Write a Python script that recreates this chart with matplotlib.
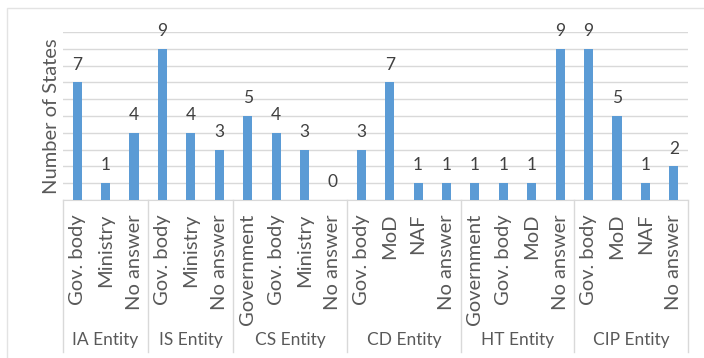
import matplotlib
matplotlib.use("Agg")
import matplotlib.pyplot as plt
from matplotlib.patches import Rectangle

plt.rcParams['font.family'] = ['Lato', 'DejaVu Sans']

groups = ['IA Entity', 'IS Entity', 'CS Entity', 'CD Entity', 'HT Entity', 'CIP Entity']
sub_labels = [
    ['Gov. body', 'Ministry', 'No answer'],
    ['Gov. body', 'Ministry', 'No answer'],
    ['Government', 'Gov. body', 'Ministry', 'No answer'],
    ['Gov. body', 'MoD', 'NAF', 'No answer'],
    ['Government', 'Gov. body', 'MoD', 'No answer'],
    ['Gov. body', 'MoD', 'NAF', 'No answer'],
]
counts = [
    [7, 1, 4],
    [9, 4, 3],
    [5, 4, 3, 0],
    [3, 7, 1, 1],
    [1, 1, 1, 9],
    [9, 5, 1, 2],
]

bar_color = '#5B9BD5'
grid_color = '#D9D9D9'
text_color = '#595959'

fig = plt.figure(figsize=(7.04, 3.58), dpi=100)
ax = fig.add_axes([63 / 704, 1 - 200 / 358, 625 / 704, 168 / 358])

# outer chart frame
fig.patches.append(Rectangle((7 / 704, -0.05), 1.0, 1 - 8 / 358 + 0.05,
                             transform=fig.transFigure, fill=False,
                             edgecolor='#E3E3E3', linewidth=1.0))

xs, vals, ticks = [], [], []
pos = 0
bounds = [-0.5]
centers = []
for g, labs, vs in zip(groups, sub_labels, counts):
    start = pos
    for lab, v in zip(labs, vs):
        xs.append(pos)
        vals.append(v)
        ticks.append(lab)
        pos += 1
    bounds.append(pos - 0.5)
    centers.append((start + pos - 1) / 2)

ax.bar(xs, vals, width=0.32, color=bar_color, zorder=3)
for x, v in zip(xs, vals):
    ax.annotate(str(v), (x, v), xytext=(0, 7), textcoords='offset points',
                ha='center', va='bottom', fontsize=12.5, color='#404040')

ax.set_xlim(-0.5, pos - 0.5)
ax.set_ylim(0, 10)
ax.set_yticks(range(0, 11))
ax.yaxis.grid(True, color=grid_color, linewidth=1.0, zorder=0)
ax.tick_params(axis='y', length=0, labelleft=False)
ax.set_xticks(xs)
ax.set_xticklabels(ticks, rotation=90, fontsize=14.5, color=text_color, va='top')
ax.tick_params(axis='x', length=0, pad=10)
for s in ['top', 'right', 'left']:
    ax.spines[s].set_visible(False)
ax.spines['bottom'].set_color(grid_color)

trans = ax.get_xaxis_transform()
for b in bounds:
    ax.plot([b, b], [0, -0.905], transform=trans, color=grid_color,
            linewidth=1.0, clip_on=False)
for c, g in zip(centers, groups):
    ax.text(c, -0.835, g, transform=trans, ha='center', va='center',
            fontsize=12.5, color=text_color)

ax.set_ylabel('Number of States', fontsize=14.5, color=text_color, labelpad=2)

fig.savefig('out.png', dpi=100)
